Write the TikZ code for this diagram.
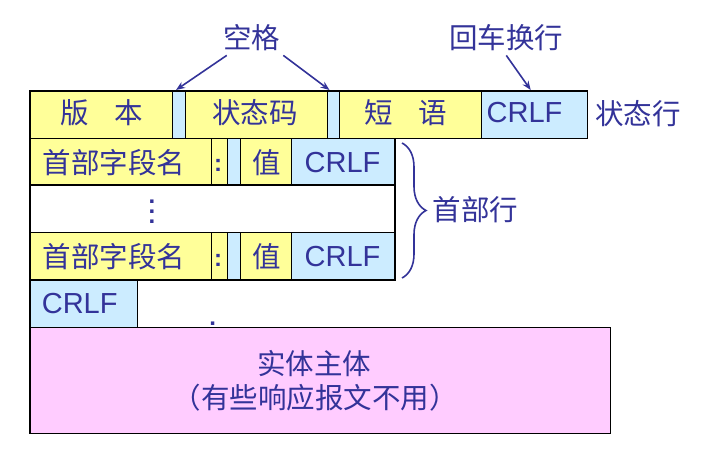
\documentclass[tikz,border=0pt]{standalone}
\usepackage{fontspec}
\setmainfont{Liberation Sans}
\newfontfamily\cjkfont{Noto Sans CJK SC}
\usetikzlibrary{decorations.pathreplacing, arrows.meta}
\definecolor{inkblue}{HTML}{333399}
\definecolor{cellyellow}{HTML}{FFFF99}
\definecolor{cellblue}{HTML}{CCECFF}
\definecolor{cellpink}{HTML}{FFCCFF}
\tikzset{
  cn/.style={font=\cjkfont\fontsize{28.5}{32}\selectfont, text=inkblue, inner sep=0pt},
  en/.style={font=\fontsize{29}{32}\selectfont, text=inkblue, inner sep=0pt},
  dotmark/.style={font=\bfseries\fontsize{24}{10}\selectfont, text=inkblue, inner sep=0pt, anchor=base},
  ycell/.style={fill=cellyellow, draw=black, line width=1.2pt},
  bcell/.style={fill=cellblue, draw=black, line width=1.2pt},
  arr/.style={draw=inkblue, line width=1.6pt, -{Stealth[length=9pt,width=7pt]}}
}
\begin{document}
\begin{tikzpicture}[x=1pt, y=-1pt]
\useasboundingbox (0,0) rectangle (712,449);
\fill [white] (0,0) rectangle (712,449);
% status line
\draw [ycell] (30,91) rectangle (172.7,138.3);
\draw [bcell] (172.7,91) rectangle (185.7,138.3);
\draw [ycell] (185.7,91) rectangle (327.3,138.3);
\draw [bcell] (327.3,91) rectangle (339.3,138.3);
\draw [ycell] (339.3,91) rectangle (481.7,138.3);
\draw [bcell] (481.7,91) rectangle (587.7,138.3);
\node (version) at (101.5,112.5) [cn] {版\hspace{0.9em}本};
\node (statcode) at (255,112.5) [cn] {状态码};
\node (phrase) at (406,112.5) [cn] {短\hspace{0.9em}语};
\node (crlfstat) at (524.5,113) [en] {CRLF};
\node (statline) at (638,113.5) [cn] {状态行};
% header lines
\draw [ycell] (30,138.3) rectangle (211.7,185);
\draw [ycell] (211.7,138.3) rectangle (227.3,185);
\draw [bcell] (227.3,138.3) rectangle (240.3,185);
\draw [ycell] (240.3,138.3) rectangle (291.7,185);
\draw [bcell] (291.7,138.3) rectangle (395,185);
\node (fname1) at (114.2,162.5) [cn] {首部字段名};
\node (colon1) at (218,172) [dotmark] {:};
\node (fval1) at (266.5,162.5) [cn] {值};
\node (crlfh1) at (342.5,162.5) [en] {CRLF};
\draw [line width=1.2pt, fill=white] (30,185) rectangle (395,232.3);
\node (vdots) at (152,211.7) [dotmark, anchor=center, align=center] {.\\.\\.};
\draw [ycell] (30,232.3) rectangle (211.7,280);
\draw [ycell] (211.7,232.3) rectangle (227.3,280);
\draw [bcell] (227.3,232.3) rectangle (240.3,280);
\draw [ycell] (240.3,232.3) rectangle (291.7,280);
\draw [bcell] (291.7,232.3) rectangle (395,280);
\node (fname2) at (114.2,256.5) [cn] {首部字段名};
\node (colon2) at (218,266) [dotmark] {:};
\node (fval2) at (266.5,256.5) [cn] {值};
\node (crlfh2) at (342.5,256.5) [en] {CRLF};
% empty line and body
\draw [bcell] (30,280) rectangle (137.7,327.3);
\node (crlfend) at (79.7,303.5) [en] {CRLF};
\node (stray) at (212.7,325.5) [dotmark] {.};
\draw [fill=cellpink, draw=black, line width=1.2pt] (30,327.3) rectangle (610.7,433.3);
\node (body) at (314,364) [cn] {实体主体};
\node (bodynote) at (315,398) [cn] {（有些响应报文不用）};
% labels
\node (space) at (251.7,38) [cn] {空格};
\node (crlfnote) at (506.3,38) [cn] {回车换行};
\coordinate (sp1top) at (176,90);
\coordinate (sp2top) at (329.5,90);
\coordinate (crlftop) at (530.7,90);
\draw [arr] ([xshift=-25pt,yshift=-4pt]space.south) -- (sp1top);
\draw [arr] ([xshift=31.6pt,yshift=-4pt]space.south) -- (sp2top);
\draw [arr] ([yshift=-4pt]crlfnote.south) -- (crlftop);
\coordinate (hdtop) at (402,143);
\coordinate (hdbot) at (402,278);
\draw [inkblue, line width=1.6pt, decorate, decoration={brace, amplitude=24pt}] (hdtop) -- (hdbot);
\node (hdline) at (475.5,210) [cn] {首部行};
\end{tikzpicture}
\end{document}
